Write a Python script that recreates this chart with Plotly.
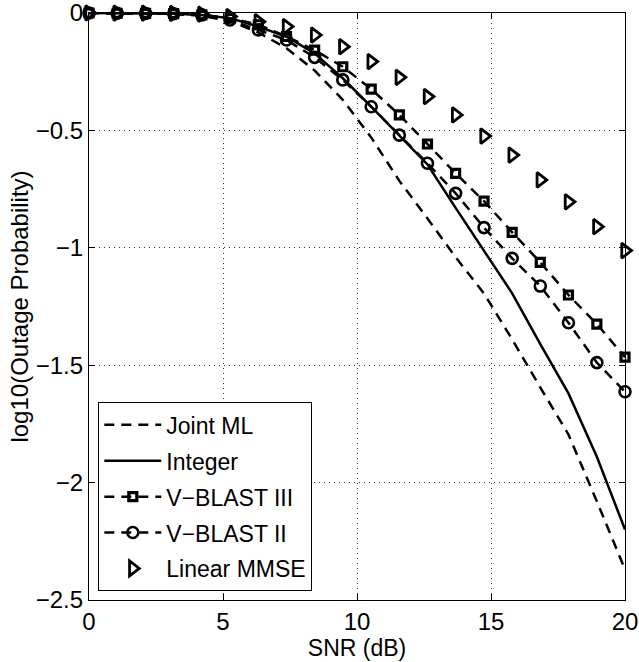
import plotly.graph_objects as go

snr = [0, 1.05, 2.11, 3.16, 4.21, 5.26, 6.32, 7.37, 8.42, 9.47,
       10.53, 11.58, 12.63, 13.68, 14.74, 15.79, 16.84, 17.89, 18.95, 20]

joint_ml = [0, -0.001, -0.002, -0.004, -0.012, -0.035, -0.083, -0.15, -0.245, -0.37,
            -0.53, -0.715, -0.875, -1.04, -1.195, -1.39, -1.595, -1.795, -2.08, -2.37]
integer = [0, -0.001, -0.002, -0.003, -0.008, -0.022, -0.058, -0.101, -0.172, -0.278,
           -0.399, -0.52, -0.645, -0.83, -1.015, -1.194, -1.41, -1.62, -1.89, -2.20]
vblast3 = [0, -0.001, -0.002, -0.003, -0.008, -0.022, -0.05, -0.1, -0.158, -0.229,
           -0.324, -0.434, -0.558, -0.683, -0.801, -0.934, -1.062, -1.201, -1.325, -1.466]
vblast2 = [0, -0.001, -0.002, -0.003, -0.008, -0.03, -0.072, -0.115, -0.189, -0.285,
           -0.399, -0.52, -0.64, -0.768, -0.914, -1.045, -1.163, -1.319, -1.489, -1.613]
lin_mmse = [0, -0.001, -0.001, -0.002, -0.005, -0.015, -0.037, -0.058, -0.094, -0.1435,
            -0.207, -0.274, -0.356, -0.434, -0.524, -0.605, -0.711, -0.804, -0.910, -1.012]

names = ["Joint ML", "Integer", "V\u2212BLAST III", "V\u2212BLAST II", "Linear MMSE"]
x_ticks = [0, 5, 10, 15, 20]
y_ticks = [0, -0.5, -1, -1.5, -2, -2.5]

FONT = "Liberation Sans, Arial, Helvetica, sans-serif"
DASH = "10px,7px"
LW = 2.5

fig = go.Figure()
fig.add_trace(go.Scatter(x=snr, y=joint_ml, name=names[0], mode="lines",
                         line=dict(color="black", width=LW, dash=DASH), legendgroup="a"))
fig.add_trace(go.Scatter(x=snr, y=integer, name=names[1], mode="lines",
                         line=dict(color="black", width=LW), legendgroup="b"))
fig.add_trace(go.Scatter(x=snr, y=vblast3, name=names[2], mode="lines+markers",
                         line=dict(color="black", width=LW, dash=DASH),
                         marker=dict(symbol="square-open", size=8, color="black",
                                     line=dict(width=3.2, color="black")), legendgroup="c"))
fig.add_trace(go.Scatter(x=snr, y=vblast2, name=names[3], mode="lines+markers",
                         line=dict(color="black", width=LW, dash=DASH),
                         marker=dict(symbol="circle-open", size=11, color="black",
                                     line=dict(width=2.6, color="black")), legendgroup="d"))
fig.add_trace(go.Scatter(x=snr, y=lin_mmse, name=names[4], mode="markers",
                         marker=dict(symbol="triangle-right-open", size=13, color="black",
                                     line=dict(width=2.8, color="black")), legendgroup="e"))
fig.update_traces(cliponaxis=False)

axis_common = dict(
    showline=True, linecolor="black", linewidth=1.2, mirror="ticks",
    ticks="inside", ticklen=6, tickcolor="black", tickwidth=1,
    showgrid=True, gridcolor="#333", gridwidth=1, griddash="1px,4px",
    zeroline=False, automargin=False, ticklabeloverflow="allow",
    tickfont=dict(family=FONT, size=24, color="black"),
)

fig.update_xaxes(range=[0, 20], tickvals=x_ticks, ticktext=[str(v) for v in x_ticks],
                 title=dict(text="SNR (dB)", font=dict(family=FONT, size=23, color="black"), standoff=0),
                 **axis_common)
fig.update_yaxes(range=[-2.5, 0], tickvals=y_ticks,
                 ticktext=["0" if v == 0 else "\u2212" + ("%g" % abs(v)) for v in y_ticks],
                 title=dict(text="log10(Outage Probability)", font=dict(family=FONT, size=24, color="black"), standoff=0),
                 **axis_common)

fig.update_layout(
    width=639, height=662,
    margin=dict(l=89, r=14, t=13, b=62, autoexpand=False),
    plot_bgcolor="white", paper_bgcolor="white",
    font=dict(family=FONT, size=23, color="black"),
    legend=dict(x=0.017, y=0.015, xanchor="left", yanchor="bottom",
                bgcolor="white", bordercolor="black", borderwidth=1.2,
                font=dict(family=FONT, size=23, color="black"),
                itemwidth=57, tracegroupgap=3),
    showlegend=True,
)

# remove the default 8px page margin so the figure fills the window exactly
fig.write_html("out.html",
               config={"displayModeBar": False},
               post_script="document.body.style.margin='0';document.documentElement.style.overflow='hidden';")
